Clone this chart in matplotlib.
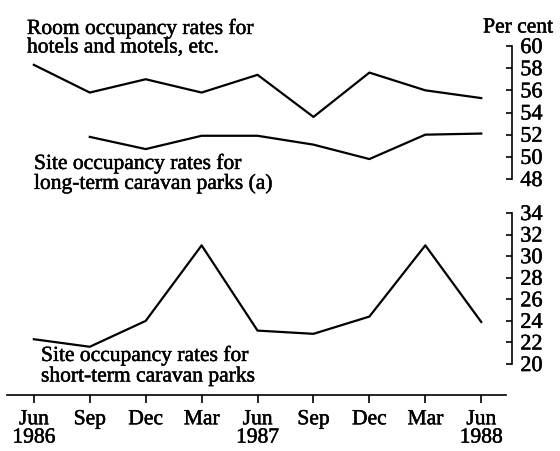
import numpy as np
import matplotlib.pyplot as plt
import matplotlib.patheffects as pe

plt.rcParams['font.family'] = ['Liberation Serif', 'DejaVu Serif']

months = ['Jun\n1986', 'Sep', 'Dec', 'Mar', 'Jun\n1987', 'Sep', 'Dec', 'Mar', 'Jun\n1988']
hotels = [58.3, 55.8, 57.0, 55.8, 57.4, 53.6, 57.6, 56.0, 55.3]
long_term = [np.nan, 51.8, 50.7, 51.9, 51.9, 51.1, 49.8, 52.0, 52.1]
short_term = [22.3, 21.6, 24.0, 31.0, 23.1, 22.8, 24.4, 31.0, 23.9]

W, H = 560, 452
fig = plt.figure(figsize=(W / 100, H / 100), dpi=100)

# slightly heavier text, like the printed original
heavy = [pe.withStroke(linewidth=0.35, foreground='black')]

x = np.arange(len(months))
xlo, xhi = -0.48, 8.55

def px(l, t, r, b):
    return [l / W, 1 - b / H, (r - l) / W, (b - t) / H]

# top panel: hotels + long-term parks
ax1 = fig.add_axes(px(7, 47, 512, 180))
ax1.plot(x, hotels, color='black', lw=1.6)
ax1.plot(x, long_term, color='black', lw=1.6)
ax1.set_xlim(xlo, xhi)
ax1.set_ylim(48, 60)

# bottom panel: short-term parks
ax2 = fig.add_axes(px(7, 214, 512, 396))
ax2.plot(x, short_term, color='black', lw=1.6)
ax2.set_xlim(xlo, xhi)
ax2.set_ylim(17.13, 34)

for ax, lo, hi in [(ax1, 48, 60), (ax2, 20, 34)]:
    ax.patch.set_alpha(0)
    for s in ['top', 'left']:
        ax.spines[s].set_visible(False)
    ax.spines['right'].set_bounds(lo, hi)
    ax.spines['right'].set_linewidth(1.2)
    ax.yaxis.tick_right()
    ax.set_yticks(np.arange(lo, hi + 1, 2))
    ax.tick_params(axis='y', direction='in', length=4, width=1.2, pad=6, labelsize=16)
    for t in ax.get_yticklabels():
        t.set_path_effects(heavy)

ax1.spines['bottom'].set_visible(False)
ax1.set_xticks([])

ax2.spines['bottom'].set_bounds(xlo, 8.45)
ax2.spines['bottom'].set_linewidth(1.2)
ax2.set_xticks(x)
ax2.set_xticklabels(months, linespacing=0.95)
ax2.tick_params(axis='x', direction='out', length=6, width=1.2, pad=5, labelsize=15.5)
for t in ax2.get_xticklabels():
    t.set_path_effects(heavy)

def label(xp, yp, s, ha='left'):
    fig.text(xp / W, 1 - yp / H, s, ha=ha, va='center', fontsize=15.5,
             path_effects=heavy)

label(27, 30, 'Room occupancy rates for')
label(27, 49, 'hotels and motels, etc.')
label(553, 29, 'Per cent', ha='right')
label(34, 165, 'Site occupancy rates for')
label(34, 185, 'long-term caravan parks (a)')
label(41, 357, 'Site occupancy rates for')
label(41, 378, 'short-term caravan parks')

fig.savefig('out.png', dpi=100)
